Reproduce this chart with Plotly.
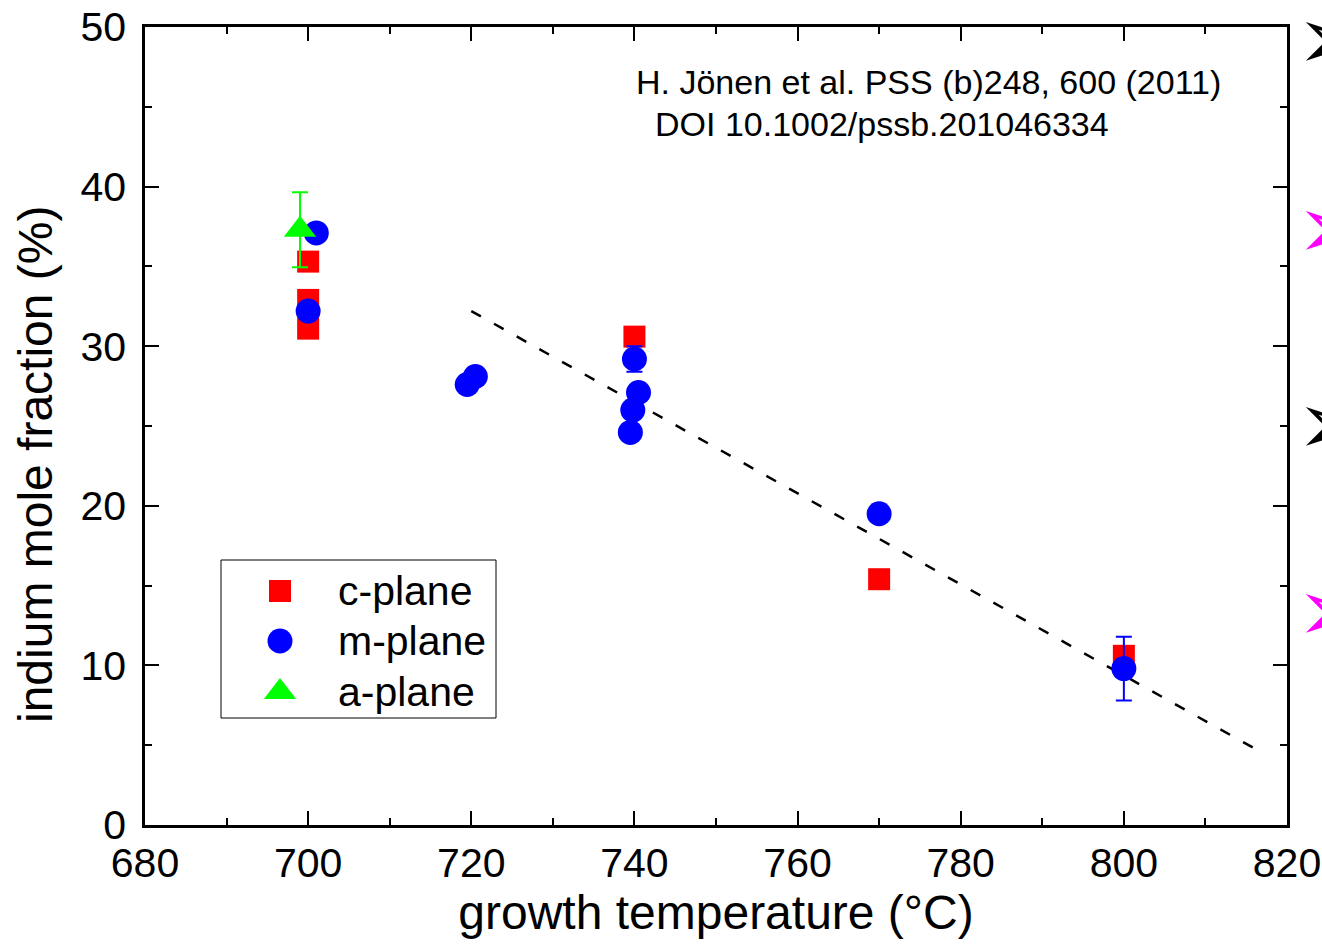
import plotly.graph_objects as go

# c-plane data
c_temp = [700, 700, 700, 740, 770, 800]
c_frac = [35.3, 32.9, 31.1, 30.6, 15.4, 10.6]

# m-plane data
m_temp = [701, 700, 719.5, 720.5, 740, 740.5, 739.8, 739.5, 770, 800]
m_frac = [37.1, 32.2, 27.6, 28.1, 29.2, 27.1, 26.0, 24.6, 19.5, 9.8]
m_err = [0, 0, 0, 0, 0.8, 0, 0, 0, 0, 2.0]

# a-plane data
a_temp = [699]
a_frac = [37.3]
a_err = [2.35]

# linear guide line
fit_temp = [720, 816]
fit_frac = [32.2, 4.8]

# legend entries
legend_names = ["c-plane", "m-plane", "a-plane"]

FONT = "Liberation Sans, Arial, sans-serif"
W, H = 1322, 944
L, R, T, B = 145, 35, 27, 119
PW, PH = W - L - R, H - T - B


def px(xp):
    return (xp - L) / PW


def py(yp):
    return (H - B - yp) / PH


styles = {
    "c-plane": dict(symbol="square", size=22, color="#ff0000"),
    "m-plane": dict(symbol="circle", size=25, color="#0000ff"),
    "a-plane": dict(symbol="triangle-up", size=28, color="#00ff00"),
}

fig = go.Figure()

fig.add_trace(go.Scatter(
    x=fit_temp, y=fit_frac, mode="lines",
    line=dict(color="black", width=2.5, dash="11px,15px"),
    showlegend=False, hoverinfo="skip"))

fig.add_trace(go.Scatter(
    x=c_temp, y=c_frac, mode="markers", name="c-plane", showlegend=False,
    marker=dict(**styles["c-plane"], line=dict(width=0))))

fig.add_trace(go.Scatter(
    x=m_temp, y=m_frac, mode="markers", name="m-plane", showlegend=False,
    marker=dict(**styles["m-plane"], line=dict(width=0)),
    error_y=dict(type="data", array=m_err, color="#0000ff", thickness=2, width=8)))

fig.add_trace(go.Scatter(
    x=a_temp, y=a_frac, mode="markers", name="a-plane", showlegend=False,
    marker=dict(**styles["a-plane"], line=dict(width=0)),
    error_y=dict(type="data", array=a_err, color="#00ff00", thickness=2, width=8)))

# custom legend (markers drawn on an overlay axis spanning the plot area)
leg_x0, leg_x1, leg_y0, leg_y1 = 221, 496, 560, 718
leg_rows = [591, 641, 692]
fig.add_shape(type="rect", xref="paper", yref="paper",
              x0=px(leg_x0), x1=px(leg_x1), y0=py(leg_y1), y1=py(leg_y0),
              line=dict(color="black", width=1), fillcolor="white", layer="below")
for name, yrow in zip(legend_names, leg_rows):
    fig.add_trace(go.Scatter(
        x=[px(280)], y=[py(yrow)], xaxis="x2", yaxis="y2", mode="markers",
        marker=dict(**styles[name], line=dict(width=0)),
        showlegend=False, hoverinfo="skip", cliponaxis=False))
    fig.add_annotation(xref="paper", yref="paper", x=px(336), y=py(yrow),
                       xanchor="left", yanchor="middle", showarrow=False, text=name,
                       font=dict(family=FONT, size=41, color="black"))

axis_common = dict(
    showline=True, linecolor="black", linewidth=2.5, mirror="allticks",
    ticks="inside", ticklen=14, tickwidth=2, tickcolor="black",
    showgrid=False, zeroline=False,
    tickfont=dict(family=FONT, size=41, color="black"),
)

xaxis = dict(
    range=[680, 820], tickmode="linear", tick0=680, dtick=20,
    minor=dict(ticks="inside", ticklen=7, tickwidth=2, tickcolor="black", dtick=10, showgrid=False),
    title=dict(text="growth temperature (°C)", font=dict(family=FONT, size=48, color="black"), standoff=8),
    **axis_common)
yaxis = dict(
    range=[0, 50], tickmode="linear", tick0=0, dtick=10,
    minor=dict(ticks="inside", ticklen=7, tickwidth=2, tickcolor="black", dtick=5, showgrid=False),
    ticklabelstandoff=8,
    **axis_common)

# y axis title (placed slightly below the plot centre, as in the original)
fig.add_annotation(
    xref="paper", yref="paper", x=px(35), y=py(464),
    xanchor="center", yanchor="middle", showarrow=False, textangle=-90,
    text="indium mole fraction (%)",
    font=dict(family=FONT, size=48, color="black"))

fig.add_annotation(
    xref="paper", yref="paper", x=px(634), y=py(82),
    xanchor="left", yanchor="middle", showarrow=False,
    text="H. Jönen et al. PSS (b)248, 600 (2011)",
    font=dict(family=FONT, size=34, color="black"))
fig.add_annotation(
    xref="paper", yref="paper", x=px(653), y=py(124),
    xanchor="left", yanchor="middle", showarrow=False,
    text="DOI 10.1002/pssb.201046334",
    font=dict(family=FONT, size=34, color="black"))

# arrow glyphs partially visible at the right edge
for ypx, col in [(38, "black"), (228, "#ff00ff"), (423, "black"), (610, "#ff00ff")]:
    fig.add_annotation(
        xref="paper", yref="paper", x=px(1294), y=py(ypx),
        xanchor="left", yanchor="middle", showarrow=False, text="➢",
        font=dict(family="DejaVu Sans", size=88, color=col))

fig.update_layout(
    width=W, height=H,
    margin=dict(l=L, r=R, t=T, b=B, autoexpand=False),
    paper_bgcolor="white", plot_bgcolor="white",
    xaxis=xaxis, yaxis=yaxis,
    xaxis2=dict(overlaying="x", range=[0, 1], visible=False, anchor="y2"),
    yaxis2=dict(overlaying="y", range=[0, 1], visible=False, anchor="x2"),
    showlegend=False,
)

fig.write_html("out.html")
